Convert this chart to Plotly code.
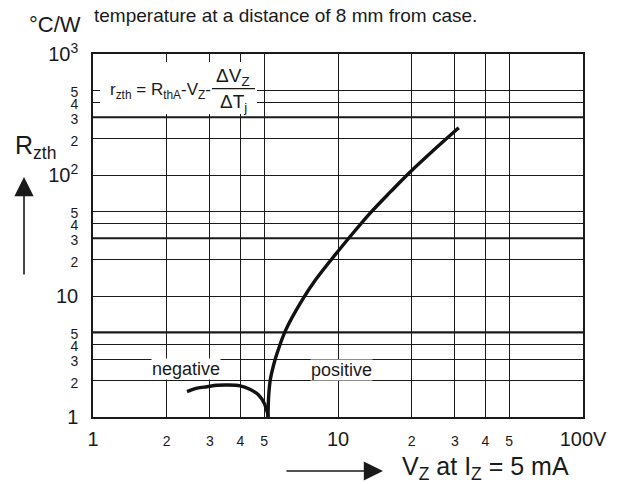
import plotly.graph_objects as go

# ---- data ----
x_ticks = [1, 2, 3, 4, 5, 10, 20, 30, 40, 50, 100]
x_ticklabels = ["1", "2", "3", "4", "5", "10", "2", "3", "4", "5", "100V"]
x_major = [1, 10, 100]
y_ticks = [1, 2, 3, 4, 5, 10, 20, 30, 40, 50, 100, 200, 300, 400, 500, 1000]
y_ticklabels = ["1", "2", "3", "4", "5", "10", "2", "3", "4", "5",
                "10<sup>2</sup>", "2", "3", "4", "5", "10<sup>3</sup>"]
y_major = [1, 10, 100, 1000]
y_thick = [5, 30, 300]

neg_v = [2.42, 2.66, 2.92, 3.21, 3.52, 3.99, 4.39, 4.74, 5.00, 5.16, 5.18]
neg_r = [1.62, 1.73, 1.78, 1.83, 1.84, 1.81, 1.69, 1.52, 1.30, 1.07, 1.0]
pos_v = [5.18, 5.21, 5.29, 5.46, 5.64, 6.11, 7.15, 8.10, 10.1, 11.5,
         13.5, 16.4, 19.7, 24.6, 31.1]
pos_r = [1.0, 1.47, 2.02, 2.69, 3.36, 5.2, 9.27, 13.6, 24.0, 33.0,
         48.2, 72.8, 106, 161, 246]

FONT = "Liberation Sans, Arial, sans-serif"
INK = "#1a1a1a"


def fmt(labels, ticks, major):
    out = []
    for lab, t in zip(labels, ticks):
        if t in major:
            out.append(lab)
        else:
            out.append('<span style="font-size:14px">%s</span>' % lab)
    return out


fig = go.Figure()
curve = dict(color="#111111", width=3.4, shape="spline", smoothing=1.0)
fig.add_trace(go.Scatter(x=neg_v, y=neg_r, mode="lines", line=curve,
                         showlegend=False, hoverinfo="skip"))
fig.add_trace(go.Scatter(x=pos_v, y=pos_r, mode="lines", line=curve,
                         showlegend=False, hoverinfo="skip"))

axis_common = dict(
    type="log", showgrid=True, gridcolor=INK, gridwidth=1.2,
    showline=True, linecolor=INK, linewidth=1.5, mirror=True,
    zeroline=False, ticks="outside", tickcolor="rgba(0,0,0,0)",
    tickfont=dict(family=FONT, size=20, color=INK),
)
fig.update_xaxes(range=[0, 2], tickmode="array", tickvals=x_ticks,
                 ticktext=fmt(x_ticklabels, x_ticks, x_major), ticklen=3,
                 **axis_common)
fig.update_yaxes(range=[0, 3], tickmode="array", tickvals=y_ticks,
                 ticktext=fmt(y_ticklabels, y_ticks, y_major), ticklen=9,
                 **axis_common)

shapes = []
for v in y_thick:
    shapes.append(dict(type="line", xref="paper", x0=0, x1=1, yref="y", y0=v, y1=v,
                       line=dict(color=INK, width=2.2), layer="below"))
# white box behind formula
shapes.append(dict(type="rect", xref="paper", yref="paper", x0=0.0143, x1=0.3347,
                   y0=0.8347, y1=0.978, fillcolor="white", line=dict(width=0),
                   layer="above"))
# fraction bar
shapes.append(dict(type="line", xref="paper", yref="paper", x0=0.2427, x1=0.3306,
                   y0=0.9044, y1=0.9044, line=dict(color=INK, width=1.3),
                   layer="above"))

ann = []


def txt(x, y, text, size, xanchor="center", yanchor="middle", bg=None):
    d = dict(xref="paper", yref="paper", x=x, y=y, text=text, showarrow=False,
             xanchor=xanchor, yanchor=yanchor,
             font=dict(family=FONT, size=size, color=INK))
    if bg:
        d.update(bgcolor=bg, borderpad=0)
    ann.append(d)


txt(-0.002, 1.107, "temperature at a distance of 8 mm from case.", 19, xanchor="left")
txt(-0.0776, 1.08, "°C/W", 22)
txt(-0.118, 0.744, "R<sub>zth</sub>", 25)
txt(0.245, 0.898, "r<sub>zth</sub> = R<sub>thA</sub>-V<sub>Z</sub>-", 17, xanchor="right")
txt(0.2867, 0.936, "ΔV<sub>Z</sub>", 19)
txt(0.2867, 0.866, "ΔT<sub>j</sub>", 19)
txt(0.1898, 0.1309, "negative", 18, bg="white")
txt(0.507, 0.1295, "positive", 18, bg="white")
txt(0.6265, -0.141, "V<sub>Z</sub> at I<sub>Z</sub> = 5 mA", 25, xanchor="left")

# arrows
ann.append(dict(xref="paper", yref="paper", x=-0.1408, y=0.661, ax=0, ay=99,
                text="", showarrow=True,
                arrowhead=2, arrowsize=2.4, arrowwidth=1.6, arrowcolor=INK))
ann.append(dict(xref="paper", yref="paper", x=0.5918, y=-0.1488, ax=-98, ay=0,
                text="", showarrow=True,
                arrowhead=2, arrowsize=2.4, arrowwidth=1.6, arrowcolor=INK))

# page body has an 8px margin, so the figure is offset; compensate
fig.update_layout(
    width=616, height=476,
    margin=dict(l=85, r=41, t=46, b=67),
    paper_bgcolor="white", plot_bgcolor="white",
    shapes=shapes, annotations=ann,
    font=dict(family=FONT, color=INK),
)

fig.write_html("out.html")
